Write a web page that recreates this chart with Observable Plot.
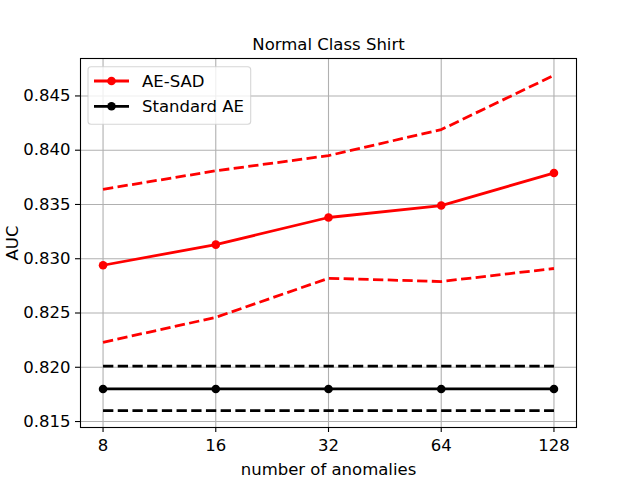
<!DOCTYPE html>
<html>
<head>
<meta charset="utf-8">
<script src="https://cdn.jsdelivr.net/npm/d3@7"></script>
<script src="https://cdn.jsdelivr.net/npm/@observablehq/plot@0.6"></script>
<style>
  html, body { margin: 0; padding: 0; background: white; }
  #chart { position: relative; width: 640px; height: 480px; font-family: "DejaVu Sans", sans-serif; }
  #legend { position: absolute; left: 0; top: 0; pointer-events: none; }
</style>
</head>
<body>
<div id="chart"></div>
<script>
// ---- data ----
const anomalies = [8, 16, 32, 64, 128];
const aeSadMean  = [0.8294, 0.8313, 0.8338, 0.8349, 0.8379];
const aeSadUpper = [0.8364, 0.8381, 0.8395, 0.8419, 0.8469];
const aeSadLower = [0.8223, 0.8246, 0.8282, 0.8279, 0.8291];
const stdMean    = [0.8180, 0.8180, 0.8180, 0.8180, 0.8180];
const stdUpper   = [0.8201, 0.8201, 0.8201, 0.8201, 0.8201];
const stdLower   = [0.8160, 0.8160, 0.8160, 0.8160, 0.8160];
const seriesNames  = ["AE-SAD", "Standard AE"];
const seriesColors = ["red", "black"];
const yTicks = [0.815, 0.820, 0.825, 0.830, 0.835, 0.840, 0.845];
const xTicks = [8, 16, 32, 64, 128];
const titleText = "Normal Class Shirt";
const xLabel = "number of anomalies";
const yLabel = "AUC";

// ---- build tables ----
const series = [
  {name: seriesNames[0], color: seriesColors[0], mean: aeSadMean, upper: aeSadUpper, lower: aeSadLower},
  {name: seriesNames[1], color: seriesColors[1], mean: stdMean, upper: stdUpper, lower: stdLower}
];
const meanRows = [];
const bandRows = [];
for (const s of series) {
  anomalies.forEach((a, i) => {
    meanRows.push({x: a, y: s.mean[i], key: s.name, color: s.color});
    bandRows.push({x: a, y: s.upper[i], key: s.name + "-up", color: s.color});
    bandRows.push({x: a, y: s.lower[i], key: s.name + "-lo", color: s.color});
  });
}

const FONT = "16.5px";
const plot = Plot.plot({
  width: 640,
  height: 480,
  marginLeft: 80,
  marginRight: 64,
  marginTop: 58,
  marginBottom: 53,
  style: {fontFamily: "DejaVu Sans", fontSize: FONT, color: "black", background: "white"},
  x: {type: "log", base: 2, domain: [Math.pow(2, 2.8), Math.pow(2, 7.2)]},
  y: {domain: [0.81445, 0.84845]},
  color: {type: "identity"},
  marks: [
    Plot.gridX(xTicks, {stroke: "#b0b0b0", strokeOpacity: 1, strokeWidth: 1.1}),
    Plot.gridY(yTicks, {stroke: "#b0b0b0", strokeOpacity: 1, strokeWidth: 1.1}),
    Plot.line(bandRows, {x: "x", y: "y", z: "key", stroke: "color", strokeWidth: 2.78,
      strokeDasharray: "10.3,4.4", strokeLinejoin: "round", strokeLinecap: "butt"}),
    Plot.line(meanRows, {x: "x", y: "y", z: "key", stroke: "color", strokeWidth: 2.78,
      strokeLinejoin: "round", strokeLinecap: "square"}),
    Plot.dot(meanRows, {x: "x", y: "y", r: 4.3, fill: "color", stroke: "none"}),
    Plot.frame({stroke: "black", strokeWidth: 1.1}),
    Plot.axisX({ticks: xTicks, tickFormat: d => String(d), tickSize: 5, tickPadding: 7,
      strokeWidth: 1.1, label: null, fontSize: FONT}),
    Plot.axisY({ticks: yTicks, tickFormat: d3.format(".3f"), tickSize: 5, tickPadding: 5,
      strokeWidth: 1.1, label: null, fontSize: FONT}),
    Plot.text([titleText], {text: d => d, frameAnchor: "top", dy: -9, lineAnchor: "bottom",
      textAnchor: "middle", fontSize: FONT, fill: "black"}),
    Plot.text([xLabel], {text: d => d, frameAnchor: "bottom", dy: 47, lineAnchor: "bottom",
      textAnchor: "middle", fontSize: FONT, fill: "black"}),
    Plot.text([yLabel], {text: d => d, frameAnchor: "left", dx: -63, rotate: -90, lineAnchor: "bottom",
      textAnchor: "middle", fontSize: FONT, fill: "black"})
  ]
});

const chart = document.getElementById("chart");
chart.appendChild(plot);

// ---- legend overlay ----
const legend = d3.select(chart).append("svg")
  .attr("id", "legend")
  .attr("width", 640).attr("height", 480);
const box = {x: 88, y: 66.7, w: 162.7, h: 57.6};
legend.append("rect")
  .attr("x", box.x).attr("y", box.y).attr("width", box.w).attr("height", box.h)
  .attr("rx", 3).attr("ry", 3)
  .attr("fill", "white").attr("fill-opacity", 0.8)
  .attr("stroke", "#cccccc").attr("stroke-opacity", 0.8).attr("stroke-width", 1.1);
const rowY = [81, 106.3];
series.forEach((s, i) => {
  const g = legend.append("g");
  g.append("line").attr("x1", 94).attr("x2", 129).attr("y1", rowY[i]).attr("y2", rowY[i])
    .attr("stroke", s.color).attr("stroke-width", 2.78);
  g.append("circle").attr("cx", 111.5).attr("cy", rowY[i]).attr("r", 4.3).attr("fill", s.color);
  g.append("text").attr("x", 142).attr("y", rowY[i] + 6)
    .attr("font-family", "DejaVu Sans").attr("font-size", FONT).attr("fill", "black")
    .text(s.name);
});
</script>
</body>
</html>
